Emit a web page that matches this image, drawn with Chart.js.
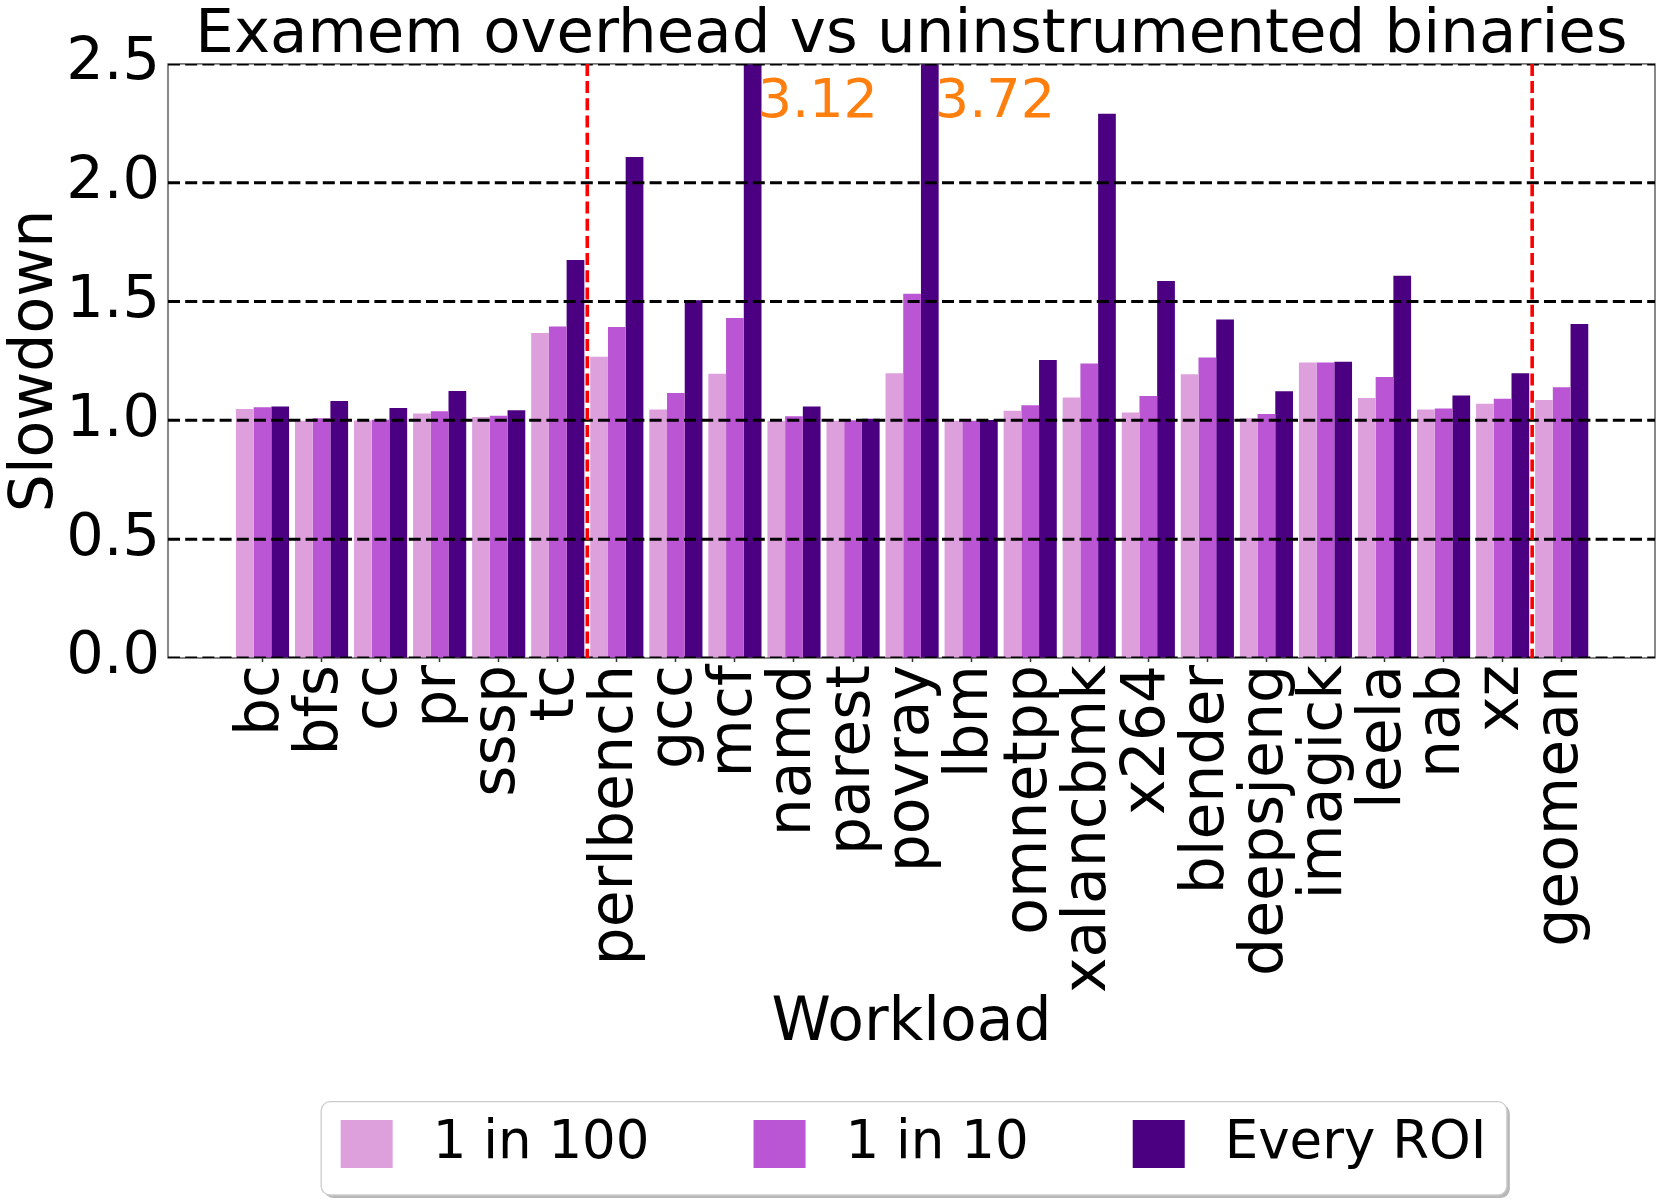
<!DOCTYPE html>
<html>
<head>
<meta charset="utf-8">
<script src="https://cdn.jsdelivr.net/npm/chart.js@4.4.1/dist/chart.umd.min.js"></script>
<style>
  html, body { margin: 0; padding: 0; background: #ffffff; }
  #wrap { width: 1661px; height: 1200px; position: relative; }
</style>
</head>
<body>
<div id="wrap"><canvas id="c" width="1661" height="1200"></canvas></div>
<script>
// ---------------- data ----------------
const workloads = ['bc', 'bfs', 'cc', 'pr', 'sssp', 'tc',
  'perlbench', 'gcc', 'mcf', 'namd', 'parest', 'povray', 'lbm', 'omnetpp',
  'xalancbmk', 'x264', 'blender', 'deepsjeng', 'imagick', 'leela', 'nab', 'xz',
  'geomean'];
const seriesNames = ['1 in 100', '1 in 10', 'Every ROI'];
const oneIn100 = [1.048, 0.998, 0.999, 1.029, 1.014, 1.368,
  1.268, 1.046, 1.196, 0.998, 0.998, 1.198, 0.998, 1.040,
  1.096, 1.033, 1.194, 1.009, 1.244, 1.094, 1.046, 1.070,
  1.086];
const oneIn10 = [1.055, 1.009, 1.003, 1.038, 1.019, 1.395,
  1.393, 1.115, 1.431, 1.017, 1.000, 1.533, 0.998, 1.064,
  1.239, 1.103, 1.265, 1.027, 1.244, 1.182, 1.050, 1.091,
  1.139];
const everyROI = [1.058, 1.081, 1.052, 1.124, 1.043, 1.675,
  2.108, 1.505, 3.12, 1.058, 1.007, 3.72, 1.002, 1.254,
  2.290, 1.586, 1.424, 1.122, 1.247, 1.608, 1.105, 1.198,
  1.405];
const groupSizes = [6, 16, 1];          // GAP suite, SPEC suite, summary
const yTickValues = [0.0, 0.5, 1.0, 1.5, 2.0, 2.5];
const titleText = 'Examem overhead vs uninstrumented binaries';
const xTitle = 'Workload';
const yTitle = 'Slowdown';

// ---------------- styles ----------------
const FAMILY = "'DejaVu Sans', 'Liberation Sans', sans-serif";
const seriesColors = ['#dda0dd', '#ba55d3', '#4b0082'];
const Y_MAX = 2.5;

const seriesValues = [oneIn100, oneIn10, everyROI];
const datasets = seriesNames.map((name, s) => ({
  label: name,
  data: seriesValues[s].map((v, i) => ({ x: i, y: v })),
  backgroundColor: seriesColors[s],
  borderWidth: 0,
  categoryPercentage: 0.9,
  barPercentage: 1.0
}));

// separators between groups (boundaries)
const separators = [];
{ let acc = 0; for (let g = 0; g < groupSizes.length - 1; g++) { acc += groupSizes[g]; separators.push(acc - 0.5); } }

const overlayPlugin = {
  id: 'overlay',
  afterDatasetsDraw(chart) {
    const { ctx, chartArea: ca, scales: { x, y } } = chart;
    ctx.save();
    // frame (spines)
    ctx.strokeStyle = '#3a3a3a';
    ctx.lineWidth = 1.2;
    ctx.strokeRect(ca.left, ca.top, ca.right - ca.left, ca.bottom - ca.top);
    // clip to axes
    ctx.beginPath();
    ctx.rect(ca.left, ca.top, ca.right - ca.left, ca.bottom - ca.top);
    ctx.clip();
    // dashed horizontal grid lines
    ctx.strokeStyle = '#000000';
    ctx.lineWidth = 3;
    ctx.setLineDash([12, 5.2]);
    yTickValues.forEach(v => {
      const py = y.getPixelForValue(v);
      ctx.beginPath();
      ctx.moveTo(ca.left, py);
      ctx.lineTo(ca.right, py);
      ctx.stroke();
    });
    // red dashed separators
    ctx.strokeStyle = '#ff0000';
    ctx.lineWidth = 3.6;
    ctx.setLineDash([12, 5.2]);
    separators.forEach(s => {
      const px = x.getPixelForValue(s);
      ctx.beginPath();
      ctx.moveTo(px, ca.top);
      ctx.lineTo(px, ca.bottom);
      ctx.stroke();
    });
    ctx.restore();

    // value labels for clipped bars
    ctx.save();
    ctx.fillStyle = '#ff7f0e';
    ctx.font = `54px ${FAMILY}`;
    ctx.textAlign = 'left';
    ctx.textBaseline = 'alphabetic';
    seriesValues.forEach(vals => {
      vals.forEach((v, i) => {
        if (v > Y_MAX) {
          ctx.fillText(v.toFixed(2), x.getPixelForValue(i + 0.385), y.getPixelForValue(2.276));
        }
      });
    });
    ctx.restore();
  }
};

function roundRect(ctx, x, y, w, h, r) {
  ctx.beginPath();
  ctx.moveTo(x + r, y);
  ctx.lineTo(x + w - r, y);
  ctx.arcTo(x + w, y, x + w, y + r, r);
  ctx.lineTo(x + w, y + h - r);
  ctx.arcTo(x + w, y + h, x + w - r, y + h, r);
  ctx.lineTo(x + r, y + h);
  ctx.arcTo(x, y + h, x, y + h - r, r);
  ctx.lineTo(x, y + r);
  ctx.arcTo(x, y, x + r, y, r);
  ctx.closePath();
}

const legendPlugin = {
  id: 'boxLegend',
  afterDraw(chart) {
    const { ctx, chartArea: ca } = chart;
    const H = chart.height;
    const fs = 53, sw = 52, sh = 48, textOff = 92, colGap = 104;
    ctx.save();
    ctx.font = `${fs}px ${FAMILY}`;
    const widths = seriesNames.map(n => ctx.measureText(n).width);
    const total = widths.reduce((a, w) => a + textOff + w, 0) + colGap * (seriesNames.length - 1);
    const cx = (ca.left + ca.right) / 2;
    const x0 = cx - total / 2 + 2;
    const cy = H - 56;
    const fl = x0 - 19.5, fr = x0 + total + 20.5, ft = H - 98.3, fb = H - 5;
    // shadow
    ctx.fillStyle = 'rgba(0,0,0,0.28)';
    roundRect(ctx, fl + 3, ft + 3, fr - fl, fb - ft, 9);
    ctx.fill();
    // frame
    ctx.fillStyle = '#ffffff';
    ctx.strokeStyle = '#cccccc';
    ctx.lineWidth = 1.3;
    roundRect(ctx, fl, ft, fr - fl, fb - ft, 9);
    ctx.fill();
    ctx.stroke();
    // items
    let xx = x0;
    ctx.textAlign = 'left';
    ctx.textBaseline = 'middle';
    seriesNames.forEach((n, i) => {
      ctx.fillStyle = seriesColors[i];
      ctx.fillRect(xx, cy - sh / 2, sw, sh);
      ctx.fillStyle = '#000000';
      ctx.fillText(n, xx + textOff, cy);
      xx += textOff + widths[i] + colGap;
    });
    ctx.restore();
  }
};

new Chart(document.getElementById('c'), {
  type: 'bar',
  data: { datasets },
  options: {
    responsive: false,
    animation: false,
    devicePixelRatio: 1,
    layout: { padding: { top: 0, right: 6, bottom: 146, left: 0 } },
    plugins: {
      legend: { display: false },
      tooltip: { enabled: false },
      title: {
        display: true,
        text: titleText,
        fullSize: false,
        color: '#000000',
        font: { family: FAMILY, size: 61, weight: 'normal', lineHeight: 0.9 },
        padding: { top: 9, bottom: 0 }
      }
    },
    scales: {
      x: {
        type: 'linear',
        offset: false,
        min: -1.6,
        max: 23.58,
        afterBuildTicks: s => { s.ticks = workloads.map((_, i) => ({ value: i })); },
        afterFit: s => { s.height = 396; s.paddingLeft = 0; s.paddingRight = 0; },
        ticks: {
          autoSkip: false,
          minRotation: 90,
          maxRotation: 90,
          padding: 3,
          color: '#000000',
          font: { family: FAMILY, size: 60 },
          callback: v => (workloads[v] !== undefined ? workloads[v] : '')
        },
        grid: { display: true, offset: false, drawOnChartArea: false, drawTicks: true, tickLength: 4, tickColor: '#333333', tickWidth: 1.5 },
        border: { display: false },
        title: {
          display: true,
          text: xTitle,
          color: '#000000',
          font: { family: FAMILY, size: 60, lineHeight: 1.0 },
          padding: { top: 0, bottom: 0 }
        }
      },
      y: {
        min: 0,
        max: Y_MAX,
        afterBuildTicks: s => { s.ticks = yTickValues.map(v => ({ value: v })); },
        afterFit: s => { s.width = 168; },
        ticks: {
          padding: 8,
          color: '#000000',
          font: { family: FAMILY, size: 59 },
          callback: v => Number(v).toFixed(1)
        },
        grid: { display: false, drawTicks: false },
        border: { display: false },
        title: {
          display: true,
          text: yTitle,
          color: '#000000',
          font: { family: FAMILY, size: 60, lineHeight: 1.0 },
          padding: { top: 6, bottom: 0 }
        }
      }
    }
  },
  plugins: [overlayPlugin, legendPlugin]
});
</script>
</body>
</html>
